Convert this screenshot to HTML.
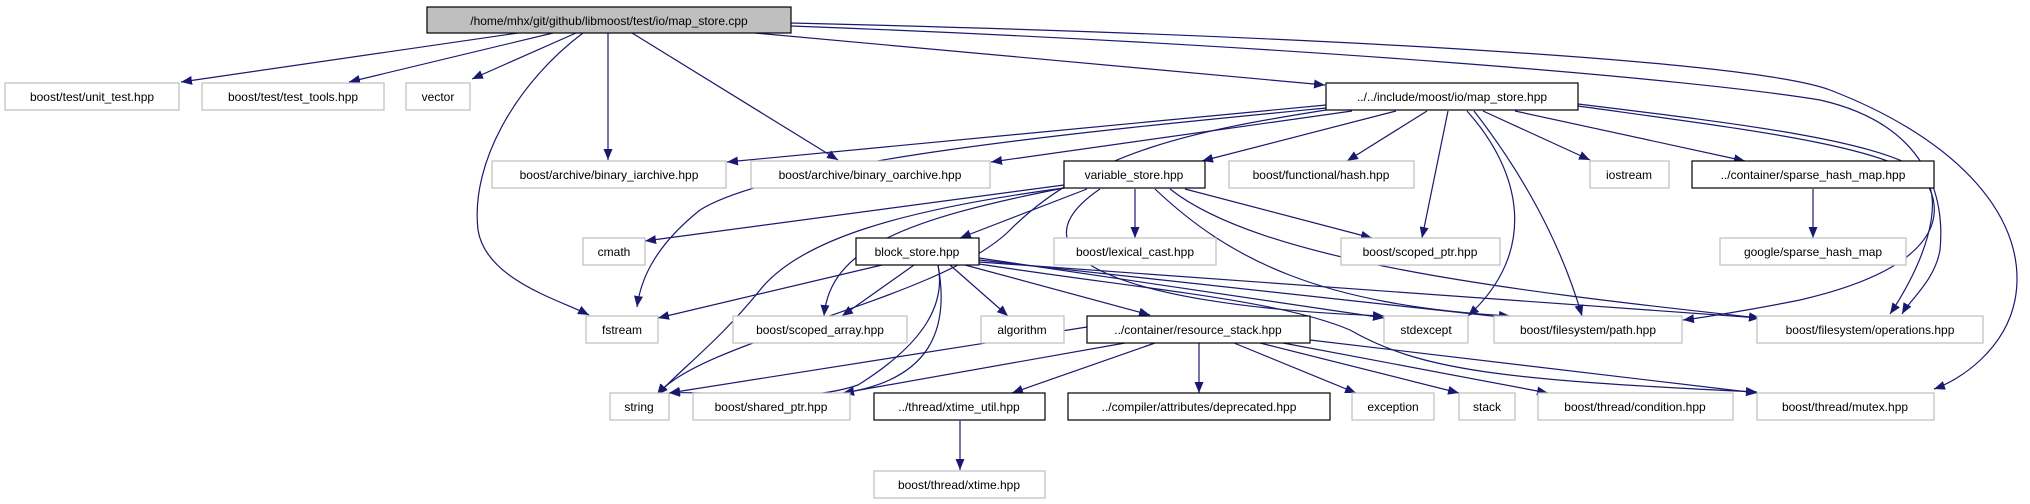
<!DOCTYPE html>
<html><head><meta charset="utf-8"><style>
html,body{margin:0;padding:0;background:#fff}
svg{display:block}
text{font-family:"Liberation Sans",sans-serif;font-size:12px;fill:#000}
</style></head><body>
<svg width="2030" height="504" viewBox="0 0 2030 504" xmlns="http://www.w3.org/2000/svg">
<defs>
<marker id="a" markerUnits="userSpaceOnUse" markerWidth="12" markerHeight="10" refX="11" refY="4.5" orient="auto">
<path d="M0,0 L11,4.5 L0,9 Z" fill="#191970"/>
</marker>
</defs>
<g fill="none" stroke="#191970" stroke-width="1.2" marker-end="url(#a)">
<!-- map_store.cpp -->
<path d="M518,33 L181,82"/>
<path d="M553,33 L349,82"/>
<path d="M576,33 L472,79"/>
<path d="M583,33 C520,80 470,160 478,230 C486,280 560,300 589,315"/>
<path d="M608,33 L608,160"/>
<path d="M632,33 L838,160"/>
<path d="M755,33 L1325,85"/>
<path d="M791,23 C1300,35 1750,60 1830,90 C1960,140 2030,220 2015,300 C2005,350 1960,380 1934,389"/>
<path d="M791,26 C1300,45 1700,80 1820,100 C1930,125 1945,200 1940,250 C1935,280 1910,300 1902,314"/>
<!-- map_store.hpp -->
<path d="M1326,105 L727,162"/>
<path d="M1352,111 L991,162"/>
<path d="M1326,108 C1100,130 780,160 700,210 C650,250 640,285 637,307"/>
<path d="M1326,110 C1200,130 1090,150 1010,230 C940,300 700,340 657,395"/>
<path d="M1396,111 L1202,161"/>
<path d="M1427,111 L1347,161"/>
<path d="M1448,111 L1422,238"/>
<path d="M1467,111 C1520,170 1540,250 1468,316"/>
<path d="M1474,111 C1520,170 1560,240 1582,316"/>
<path d="M1483,111 L1590,160"/>
<path d="M1515,111 L1745,161"/>
<path d="M1578,104 C1750,125 1870,140 1920,170 C1950,200 1920,270 1890,314"/>
<path d="M1578,106 C1750,130 1880,145 1925,180 C1950,220 1930,270 1800,300 C1750,310 1700,318 1683,320"/>
<!-- sparse -->
<path d="M1813,189 L1813,238"/>
<!-- variable_store -->
<path d="M1064,185 L645,241"/>
<path d="M1087,189 L960,238"/>
<path d="M1064,188 C900,210 800,240 760,290 C720,340 680,370 657,395"/>
<path d="M1064,188 C900,220 830,250 824,316"/>
<path d="M1135,189 L1135,238"/>
<path d="M1185,189 L1372,238"/>
<path d="M1100,189 C1010,250 1100,305 1384,316"/>
<path d="M1155,189 C1230,260 1320,305 1510,316"/>
<path d="M1170,189 C1260,260 1500,290 1760,318"/>
<!-- block_store -->
<path d="M882,265 L658,318"/>
<path d="M914,265 L842,316"/>
<path d="M938,265 C945,300 930,340 858,385 C800,405 720,390 669,393"/>
<path d="M938,265 C950,330 930,380 843,393"/>
<path d="M950,265 L1008,316"/>
<path d="M965,265 L1150,315"/>
<path d="M979,258 L1384,318"/>
<path d="M979,260 L1510,318"/>
<path d="M979,262 L1760,318"/>
<path d="M979,264 C1150,290 1280,300 1350,330 C1420,370 1500,380 1757,392"/>
<!-- resource_stack -->
<path d="M1087,327 L669,393"/>
<path d="M1125,343 L843,393"/>
<path d="M1155,343 L1012,393"/>
<path d="M1199,343 L1199,393"/>
<path d="M1234,343 L1356,393"/>
<path d="M1260,343 L1459,393"/>
<path d="M1283,343 L1548,393"/>
<path d="M1310,340 L1757,393"/>
<!-- xtime_util -->
<path d="M960,421 L960,470"/>
</g>
<g stroke-width="1.2">
<rect x="427" y="7" width="364" height="26" fill="#bfbfbf" stroke="#000"/>
<g fill="#fff" stroke="#bfbfbf">
<rect x="5" y="83" width="174" height="27"/>
<rect x="202" y="83" width="182" height="27"/>
<rect x="406" y="83" width="64" height="27"/>
<rect x="492" y="161" width="234" height="27"/>
<rect x="751" y="161" width="239" height="27"/>
<rect x="1229" y="161" width="185" height="27"/>
<rect x="1590" y="161" width="79" height="27"/>
<rect x="583" y="238" width="62" height="27"/>
<rect x="1054" y="238" width="162" height="27"/>
<rect x="1341" y="238" width="159" height="27"/>
<rect x="1720" y="238" width="186" height="27"/>
<rect x="586" y="316" width="72" height="27"/>
<rect x="733" y="316" width="174" height="27"/>
<rect x="981" y="316" width="83" height="27"/>
<rect x="1384" y="316" width="84" height="27"/>
<rect x="1494" y="316" width="188" height="27"/>
<rect x="1757" y="316" width="226" height="27"/>
<rect x="610" y="393" width="59" height="27"/>
<rect x="693" y="393" width="157" height="27"/>
<rect x="1352" y="393" width="82" height="27"/>
<rect x="1459" y="393" width="56" height="27"/>
<rect x="1538" y="393" width="195" height="27"/>
<rect x="1757" y="393" width="177" height="27"/>
<rect x="874" y="471" width="171" height="27"/>
</g>
<g fill="#fff" stroke="#000">
<rect x="1326" y="83" width="252" height="27"/>
<rect x="1064" y="161" width="141" height="27"/>
<rect x="1692" y="161" width="242" height="27"/>
<rect x="856" y="238" width="123" height="27"/>
<rect x="1087" y="316" width="223" height="27"/>
<rect x="874" y="393" width="171" height="27"/>
<rect x="1068" y="393" width="262" height="27"/>
</g>
</g>
<g text-anchor="middle">
<text x="609" y="25">/home/mhx/git/github/libmoost/test/io/map_store.cpp</text>
<text x="92" y="101">boost/test/unit_test.hpp</text>
<text x="293" y="101">boost/test/test_tools.hpp</text>
<text x="438" y="101">vector</text>
<text x="1452" y="101">../../include/moost/io/map_store.hpp</text>
<text x="609" y="179">boost/archive/binary_iarchive.hpp</text>
<text x="870" y="179">boost/archive/binary_oarchive.hpp</text>
<text x="1134" y="179">variable_store.hpp</text>
<text x="1321" y="179">boost/functional/hash.hpp</text>
<text x="1629" y="179">iostream</text>
<text x="1813" y="179">../container/sparse_hash_map.hpp</text>
<text x="614" y="256">cmath</text>
<text x="917" y="256">block_store.hpp</text>
<text x="1135" y="256">boost/lexical_cast.hpp</text>
<text x="1420" y="256">boost/scoped_ptr.hpp</text>
<text x="1813" y="256">google/sparse_hash_map</text>
<text x="622" y="334">fstream</text>
<text x="820" y="334">boost/scoped_array.hpp</text>
<text x="1022" y="334">algorithm</text>
<text x="1198" y="334">../container/resource_stack.hpp</text>
<text x="1426" y="334">stdexcept</text>
<text x="1588" y="334">boost/filesystem/path.hpp</text>
<text x="1870" y="334">boost/filesystem/operations.hpp</text>
<text x="639" y="411">string</text>
<text x="771" y="411">boost/shared_ptr.hpp</text>
<text x="959" y="411">../thread/xtime_util.hpp</text>
<text x="1199" y="411">../compiler/attributes/deprecated.hpp</text>
<text x="1393" y="411">exception</text>
<text x="1487" y="411">stack</text>
<text x="1635" y="411">boost/thread/condition.hpp</text>
<text x="1845" y="411">boost/thread/mutex.hpp</text>
<text x="959" y="489">boost/thread/xtime.hpp</text>
</g>
</svg>
</body></html>
